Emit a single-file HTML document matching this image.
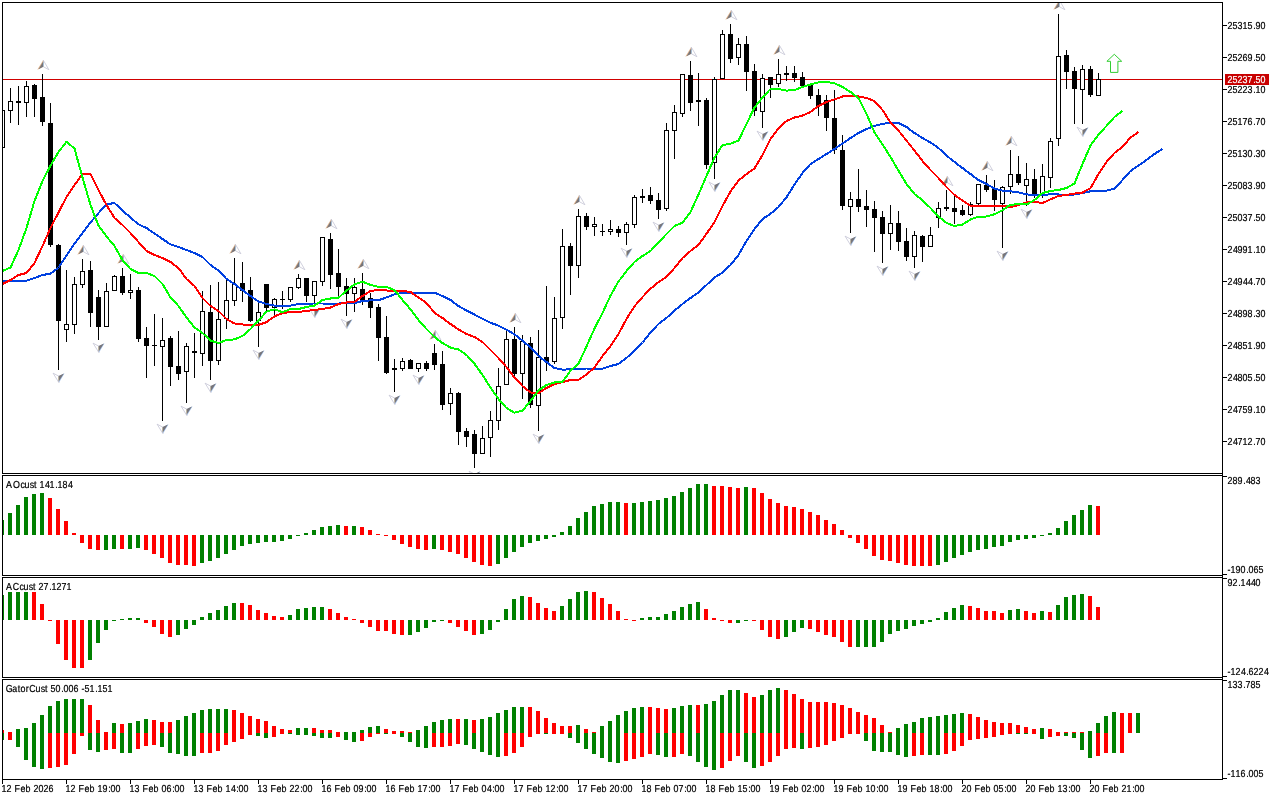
<!DOCTYPE html>
<html lang="en"><head><meta charset="utf-8"><title>Chart</title>
<style>html,body{margin:0;padding:0;background:#fff;width:1280px;height:800px;overflow:hidden}svg{display:block;position:absolute;left:0;top:0}text{font-family:"Liberation Sans",Arial,sans-serif;font-size:10.1px;text-rendering:geometricPrecision;fill:#000;stroke:#000;stroke-width:.22px}.c{shape-rendering:crispEdges}</style></head><body>
<svg width="1280" height="800" viewBox="0 0 1280 800">
<rect width="1280" height="800" fill="#fff"/>
<defs><clipPath id="m"><rect x="3" y="3" width="1219" height="470"/></clipPath><clipPath id="p1"><rect x="3" y="476" width="1219" height="99"/></clipPath><clipPath id="p2"><rect x="3" y="578" width="1219" height="99"/></clipPath><clipPath id="p3"><rect x="3" y="680" width="1219" height="99"/></clipPath></defs>
<g clip-path="url(#m)">
<path class="c" d="M3 79h1219v1h-1219z" fill="#d00000"/>
<path class="c" d="M2 110h1v38h-1zM0 110h5v38h-5zM10 88h1v35h-1zM8 101h5v10h-5zM18 86h1v39h-1zM16 101h5v2h-5zM26 81h1v36h-1zM24 86h5v17h-5zM34 84h1v33h-1zM32 85h5v14h-5zM42 74h1v52h-1zM40 97h5v25h-5zM50 103h1v144h-1zM48 123h5v122h-5zM58 244h1v126h-1zM56 245h5v76h-5zM66 270h1v72h-1zM64 324h5v6h-5zM74 277h1v57h-1zM72 284h5v41h-5zM82 259h1v29h-1zM80 271h5v14h-5zM90 261h1v66h-1zM88 270h5v43h-5zM98 290h1v50h-1zM96 297h5v30h-5zM106 283h1v44h-1zM104 291h5v36h-5zM114 275h1v16h-1zM112 276h5v15h-5zM122 268h1v27h-1zM120 276h5v17h-5zM130 274h1v25h-1zM128 290h5v3h-5zM138 287h1v55h-1zM136 290h5v49h-5zM146 327h1v51h-1zM144 338h5v8h-5zM154 314h1v52h-1zM152 345h5v1h-5zM162 318h1v103h-1zM160 340h5v7h-5zM170 336h1v50h-1zM168 338h5v29h-5zM178 331h1v49h-1zM176 366h5v8h-5zM186 343h1v60h-1zM184 346h5v26h-5zM194 333h1v45h-1zM192 351h5v2h-5zM202 291h1v75h-1zM200 311h5v43h-5zM210 285h1v95h-1zM208 312h5v49h-5zM218 282h1v83h-1zM216 319h5v42h-5zM226 280h1v49h-1zM224 300h5v19h-5zM234 258h1v48h-1zM232 284h5v17h-5zM242 262h1v40h-1zM240 283h5v8h-5zM250 277h1v45h-1zM248 290h5v31h-5zM258 301h1v46h-1zM256 312h5v9h-5zM266 284h1v27h-1zM264 284h5v24h-5zM274 298h1v18h-1zM272 299h5v9h-5zM282 291h1v18h-1zM280 299h5v1h-5zM290 287h1v15h-1zM288 287h5v13h-5zM298 274h1v15h-1zM296 278h5v10h-5zM306 278h1v24h-1zM304 278h5v18h-5zM314 281h1v24h-1zM312 281h5v15h-5zM322 237h1v49h-1zM320 237h5v45h-5zM330 233h1v56h-1zM328 239h5v36h-5zM338 249h1v47h-1zM336 273h5v14h-5zM346 278h1v38h-1zM344 286h5v8h-5zM354 278h1v34h-1zM352 287h5v7h-5zM362 273h1v32h-1zM360 289h5v11h-5zM370 293h1v25h-1zM368 298h5v10h-5zM378 304h1v57h-1zM376 307h5v31h-5zM386 316h1v58h-1zM384 337h5v36h-5zM394 359h1v33h-1zM392 368h5v2h-5zM402 358h1v13h-1zM400 361h5v8h-5zM410 359h1v10h-1zM408 360h5v9h-5zM418 363h1v9h-1zM416 363h5v6h-5zM426 361h1v10h-1zM424 363h5v6h-5zM434 344h1v26h-1zM432 353h5v12h-5zM442 351h1v59h-1zM440 364h5v41h-5zM450 388h1v27h-1zM448 393h5v11h-5zM458 392h1v53h-1zM456 393h5v39h-5zM466 428h1v19h-1zM464 431h5v6h-5zM474 430h1v38h-1zM472 434h5v20h-5zM482 426h1v28h-1zM480 438h5v16h-5zM490 411h1v46h-1zM488 420h5v18h-5zM498 368h1v62h-1zM496 386h5v35h-5zM506 330h1v55h-1zM504 339h5v46h-5zM514 327h1v50h-1zM512 339h5v35h-5zM522 335h1v64h-1zM520 341h5v33h-5zM530 337h1v71h-1zM528 343h5v62h-5zM538 330h1v101h-1zM536 357h5v49h-5zM546 286h1v85h-1zM544 357h5v5h-5zM554 297h1v67h-1zM552 318h5v44h-5zM562 229h1v100h-1zM560 246h5v72h-5zM570 243h1v52h-1zM568 246h5v20h-5zM578 209h1v69h-1zM576 216h5v50h-5zM586 213h1v17h-1zM584 216h5v11h-5zM594 217h1v19h-1zM592 224h5v3h-5zM602 224h1v12h-1zM600 231h5v1h-5zM610 220h1v15h-1zM608 229h5v3h-5zM618 226h1v11h-1zM616 229h5v4h-5zM626 222h1v23h-1zM624 224h5v9h-5zM634 195h1v33h-1zM632 197h5v28h-5zM642 189h1v14h-1zM640 196h5v2h-5zM650 187h1v17h-1zM648 195h5v6h-5zM658 193h1v26h-1zM656 200h5v10h-5zM666 123h1v88h-1zM664 130h5v79h-5zM674 105h1v54h-1zM672 112h5v19h-5zM682 74h1v43h-1zM680 74h5v40h-5zM690 61h1v50h-1zM688 75h5v28h-5zM698 73h1v53h-1zM696 100h5v2h-5zM706 98h1v71h-1zM704 100h5v65h-5zM714 77h1v102h-1zM712 79h5v84h-5zM722 30h1v49h-1zM720 34h5v45h-5zM730 24h1v39h-1zM728 34h5v25h-5zM738 38h1v27h-1zM736 44h5v14h-5zM746 36h1v55h-1zM744 44h5v28h-5zM754 64h1v52h-1zM752 71h5v40h-5zM762 74h1v54h-1zM760 78h5v34h-5zM770 77h1v21h-1zM768 77h5v8h-5zM778 59h1v28h-1zM776 74h5v10h-5zM786 66h1v15h-1zM784 73h5v2h-5zM794 66h1v16h-1zM792 73h5v5h-5zM802 72h1v14h-1zM800 77h5v9h-5zM810 85h1v14h-1zM808 85h5v11h-5zM818 89h1v27h-1zM816 95h5v11h-5zM826 95h1v36h-1zM824 100h5v18h-5zM834 90h1v64h-1zM832 118h5v32h-5zM842 135h1v75h-1zM840 150h5v56h-5zM850 192h1v41h-1zM848 199h5v8h-5zM858 169h1v43h-1zM856 199h5v8h-5zM866 190h1v37h-1zM864 206h5v4h-5zM874 201h1v51h-1zM872 209h5v9h-5zM882 211h1v52h-1zM880 217h5v17h-5zM890 205h1v45h-1zM888 223h5v11h-5zM898 211h1v40h-1zM896 223h5v19h-5zM906 228h1v33h-1zM904 241h5v16h-5zM914 231h1v37h-1zM912 235h5v22h-5zM922 235h1v27h-1zM920 236h5v11h-5zM930 227h1v20h-1zM928 235h5v12h-5zM938 202h1v26h-1zM936 208h5v10h-5zM946 190h1v21h-1zM944 207h5v2h-5zM954 195h1v29h-1zM952 208h5v4h-5zM962 205h1v11h-1zM960 210h5v5h-5zM970 202h1v14h-1zM968 204h5v11h-5zM978 184h1v21h-1zM976 184h5v20h-5zM986 175h1v17h-1zM984 185h5v5h-5zM994 180h1v31h-1zM992 189h5v11h-5zM1002 186h1v62h-1zM1000 187h5v17h-5zM1010 150h1v44h-1zM1008 174h5v13h-5zM1018 156h1v29h-1zM1016 174h5v9h-5zM1026 163h1v43h-1zM1024 179h5v7h-5zM1034 169h1v29h-1zM1032 179h5v15h-5zM1042 164h1v34h-1zM1040 176h5v19h-5zM1050 138h1v50h-1zM1048 141h5v37h-5zM1058 14h1v132h-1zM1056 56h5v83h-5zM1066 50h1v39h-1zM1064 55h5v17h-5zM1074 67h1v57h-1zM1072 71h5v18h-5zM1082 65h1v59h-1zM1080 69h5v21h-5zM1090 66h1v31h-1zM1088 69h5v26h-5zM1098 73h1v23h-1zM1096 79h5v17h-5z" fill="#000"/>
<path class="c" d="M1 111h3v36h-3zM9 102h3v8h-3zM25 87h3v15h-3zM65 325h3v4h-3zM73 285h3v39h-3zM81 272h3v12h-3zM105 292h3v34h-3zM113 277h3v13h-3zM129 291h3v1h-3zM161 341h3v5h-3zM185 347h3v24h-3zM201 312h3v41h-3zM217 320h3v40h-3zM225 301h3v17h-3zM233 285h3v15h-3zM257 313h3v7h-3zM273 300h3v7h-3zM289 288h3v11h-3zM297 279h3v8h-3zM313 282h3v13h-3zM321 238h3v43h-3zM353 288h3v5h-3zM401 362h3v6h-3zM417 364h3v4h-3zM449 394h3v9h-3zM481 439h3v14h-3zM489 421h3v16h-3zM497 387h3v33h-3zM505 340h3v44h-3zM521 342h3v31h-3zM537 358h3v47h-3zM553 319h3v42h-3zM561 247h3v70h-3zM577 217h3v48h-3zM593 225h3v1h-3zM609 230h3v1h-3zM625 225h3v7h-3zM633 198h3v26h-3zM665 131h3v77h-3zM673 113h3v17h-3zM681 75h3v38h-3zM713 80h3v82h-3zM721 35h3v43h-3zM737 45h3v12h-3zM761 79h3v32h-3zM777 75h3v8h-3zM849 200h3v6h-3zM889 224h3v9h-3zM913 236h3v20h-3zM929 236h3v10h-3zM937 209h3v8h-3zM969 205h3v9h-3zM977 185h3v18h-3zM1001 188h3v15h-3zM1009 175h3v11h-3zM1025 180h3v5h-3zM1041 177h3v17h-3zM1049 142h3v35h-3zM1057 57h3v81h-3zM1081 70h3v19h-3zM1097 80h3v15h-3z" fill="#fff"/>
<path d="M43.3 60.2L48.9 69.7L43.3 66.7zM83.3 245.2L88.9 254.7L83.3 251.7zM123.3 254.2L128.9 263.7L123.3 260.7zM235.3 244.2L240.9 253.7L235.3 250.7zM299.3 260.2L304.9 269.7L299.3 266.7zM331.3 219.2L336.9 228.7L331.3 225.7zM363.3 259.2L368.9 268.7L363.3 265.7zM435.3 330.2L440.9 339.7L435.3 336.7zM515.3 313.2L520.9 322.7L515.3 319.7zM579.3 195.2L584.9 204.7L579.3 201.7zM691.3 47.2L696.9 56.7L691.3 53.7zM731.3 10.2L736.9 19.7L731.3 16.7zM779.3 45.2L784.9 54.7L779.3 51.7zM947.3 176.2L952.9 185.7L947.3 182.7zM987.3 161.2L992.9 170.7L987.3 167.7zM1011.3 136.2L1016.9 145.7L1011.3 142.7zM1059.3 0.2L1064.9 9.7L1059.3 6.7zM58.9 382.6L53.1 373.2L58.9 376.2zM98.9 352.6L93.1 343.2L98.9 346.2zM162.9 433.6L157.1 424.2L162.9 427.2zM186.9 415.6L181.1 406.2L186.9 409.2zM210.9 392.6L205.1 383.2L210.9 386.2zM258.9 359.6L253.1 350.2L258.9 353.2zM314.9 317.6L309.1 308.2L314.9 311.2zM346.9 328.6L341.1 319.2L346.9 322.2zM394.9 404.6L389.1 395.2L394.9 398.2zM418.9 384.6L413.1 375.2L418.9 378.2zM474.9 480.6L469.1 471.2L474.9 474.2zM538.9 443.6L533.1 434.2L538.9 437.2zM626.9 257.6L621.1 248.2L626.9 251.2zM658.9 231.6L653.1 222.2L658.9 225.2zM714.9 191.6L709.1 182.2L714.9 185.2zM762.9 140.6L757.1 131.2L762.9 134.2zM850.9 245.6L845.1 236.2L850.9 239.2zM882.9 275.6L877.1 266.2L882.9 269.2zM914.9 280.6L909.1 271.2L914.9 274.2zM1002.9 260.6L997.1 251.2L1002.9 254.2zM1026.9 218.6L1021.1 209.2L1026.9 212.2zM1082.9 136.6L1077.1 127.2L1082.9 130.2z" fill="#fff" stroke="#c4c4d4" stroke-width="0.8" stroke-linejoin="miter"/>
<path d="M43.1 60.2L37.3 69.7L43.3 66.7zM83.1 245.2L77.3 254.7L83.3 251.7zM123.1 254.2L117.3 263.7L123.3 260.7zM235.1 244.2L229.3 253.7L235.3 250.7zM299.1 260.2L293.3 269.7L299.3 266.7zM331.1 219.2L325.3 228.7L331.3 225.7zM363.1 259.2L357.3 268.7L363.3 265.7zM435.1 330.2L429.3 339.7L435.3 336.7zM515.1 313.2L509.3 322.7L515.3 319.7zM579.1 195.2L573.3 204.7L579.3 201.7zM691.1 47.2L685.3 56.7L691.3 53.7zM731.1 10.2L725.3 19.7L731.3 16.7zM779.1 45.2L773.3 54.7L779.3 51.7zM947.1 176.2L941.3 185.7L947.3 182.7zM987.1 161.2L981.3 170.7L987.3 167.7zM1011.1 136.2L1005.3 145.7L1011.3 142.7zM1059.1 0.2L1053.3 9.7L1059.3 6.7z" fill="#e0b48c"/>
<path d="M59.1 382.6L64.6 373.2L58.9 376.2zM99.1 352.6L104.6 343.2L98.9 346.2zM163.1 433.6L168.6 424.2L162.9 427.2zM187.1 415.6L192.6 406.2L186.9 409.2zM211.1 392.6L216.6 383.2L210.9 386.2zM259.1 359.6L264.6 350.2L258.9 353.2zM315.1 317.6L320.6 308.2L314.9 311.2zM347.1 328.6L352.6 319.2L346.9 322.2zM395.1 404.6L400.6 395.2L394.9 398.2zM419.1 384.6L424.6 375.2L418.9 378.2zM475.1 480.6L480.6 471.2L474.9 474.2zM539.1 443.6L544.6 434.2L538.9 437.2zM627.1 257.6L632.6 248.2L626.9 251.2zM659.1 231.6L664.6 222.2L658.9 225.2zM715.1 191.6L720.6 182.2L714.9 185.2zM763.1 140.6L768.6 131.2L762.9 134.2zM851.1 245.6L856.6 236.2L850.9 239.2zM883.1 275.6L888.6 266.2L882.9 269.2zM915.1 280.6L920.6 271.2L914.9 274.2zM1003.1 260.6L1008.6 251.2L1002.9 254.2zM1027.1 218.6L1032.6 209.2L1026.9 212.2zM1083.1 136.6L1088.6 127.2L1082.9 130.2z" fill="#a4c4ee"/>
<path d="M59.2 381.1L58.3 380.1L58.3 376.7L59.2 376.2zM99.2 351.1L98.3 350.1L98.3 346.7L99.2 346.2zM163.2 432.1L162.3 431.1L162.3 427.7L163.2 427.2zM187.2 414.1L186.3 413.1L186.3 409.7L187.2 409.2zM211.2 391.1L210.3 390.1L210.3 386.7L211.2 386.2zM259.2 358.1L258.3 357.1L258.3 353.7L259.2 353.2zM315.2 316.1L314.3 315.1L314.3 311.7L315.2 311.2zM347.2 327.1L346.3 326.1L346.3 322.7L347.2 322.2zM395.2 403.1L394.3 402.1L394.3 398.7L395.2 398.2zM419.2 383.1L418.3 382.1L418.3 378.7L419.2 378.2zM475.2 479.1L474.3 478.1L474.3 474.7L475.2 474.2zM539.2 442.1L538.3 441.1L538.3 437.7L539.2 437.2zM627.2 256.1L626.3 255.1L626.3 251.7L627.2 251.2zM659.2 230.1L658.3 229.1L658.3 225.7L659.2 225.2zM715.2 190.1L714.3 189.1L714.3 185.7L715.2 185.2zM763.2 139.1L762.3 138.1L762.3 134.7L763.2 134.2zM851.2 244.1L850.3 243.1L850.3 239.7L851.2 239.2zM883.2 274.1L882.3 273.1L882.3 269.7L883.2 269.2zM915.2 279.1L914.3 278.1L914.3 274.7L915.2 274.2zM1003.2 259.1L1002.3 258.1L1002.3 254.7L1003.2 254.2zM1027.2 217.1L1026.3 216.1L1026.3 212.7L1027.2 212.2zM1083.2 135.1L1082.3 134.1L1082.3 130.7L1083.2 130.2z" fill="#f4e4b0"/>
<path d="M43 61.7L43.9 62.7L43.9 66.2L43 66.7zM83 246.7L83.9 247.7L83.9 251.2L83 251.7zM123 255.7L123.9 256.7L123.9 260.2L123 260.7zM235 245.7L235.9 246.7L235.9 250.2L235 250.7zM299 261.7L299.9 262.7L299.9 266.2L299 266.7zM331 220.7L331.9 221.7L331.9 225.2L331 225.7zM363 260.7L363.9 261.7L363.9 265.2L363 265.7zM435 331.7L435.9 332.7L435.9 336.2L435 336.7zM515 314.7L515.9 315.7L515.9 319.2L515 319.7zM579 196.7L579.9 197.7L579.9 201.2L579 201.7zM691 48.7L691.9 49.7L691.9 53.2L691 53.7zM731 11.7L731.9 12.7L731.9 16.2L731 16.7zM779 46.7L779.9 47.7L779.9 51.2L779 51.7zM947 177.7L947.9 178.7L947.9 182.2L947 182.7zM987 162.7L987.9 163.7L987.9 167.2L987 167.7zM1011 137.7L1011.9 138.7L1011.9 142.2L1011 142.7zM1059 1.7L1059.9 2.7L1059.9 6.2L1059 6.7z" fill="#bce0ff"/>
<path d="M43.3 61.2L38.6 69.3L43.3 66.7zM83.3 246.2L78.6 254.3L83.3 251.7zM123.3 255.2L118.6 263.3L123.3 260.7zM235.3 245.2L230.6 253.3L235.3 250.7zM299.3 261.2L294.6 269.3L299.3 266.7zM331.3 220.2L326.6 228.3L331.3 225.7zM363.3 260.2L358.6 268.3L363.3 265.7zM435.3 331.2L430.6 339.3L435.3 336.7zM515.3 314.2L510.6 322.3L515.3 319.7zM579.3 196.2L574.6 204.3L579.3 201.7zM691.3 48.2L686.6 56.3L691.3 53.7zM731.3 11.2L726.6 19.3L731.3 16.7zM779.3 46.2L774.6 54.3L779.3 51.7zM947.3 177.2L942.6 185.3L947.3 182.7zM987.3 162.2L982.6 170.3L987.3 167.7zM1011.3 137.2L1006.6 145.3L1011.3 142.7zM1059.3 1.2L1054.6 9.3L1059.3 6.7zM58.6 381.8L63.9 373.4L58.6 376zM98.6 351.8L103.9 343.4L98.6 346zM162.6 432.8L167.9 424.4L162.6 427zM186.6 414.8L191.9 406.4L186.6 409zM210.6 391.8L215.9 383.4L210.6 386zM258.6 358.8L263.9 350.4L258.6 353zM314.6 316.8L319.9 308.4L314.6 311zM346.6 327.8L351.9 319.4L346.6 322zM394.6 403.8L399.9 395.4L394.6 398zM418.6 383.8L423.9 375.4L418.6 378zM474.6 479.8L479.9 471.4L474.6 474zM538.6 442.8L543.9 434.4L538.6 437zM626.6 256.8L631.9 248.4L626.6 251zM658.6 230.8L663.9 222.4L658.6 225zM714.6 190.8L719.9 182.4L714.6 185zM762.6 139.8L767.9 131.4L762.6 134zM850.6 244.8L855.9 236.4L850.6 239zM882.6 274.8L887.9 266.4L882.6 269zM914.6 279.8L919.9 271.4L914.6 274zM1002.6 259.8L1007.9 251.4L1002.6 254zM1026.6 217.8L1031.9 209.4L1026.6 212zM1082.6 135.8L1087.9 127.4L1082.6 130z" fill="#77757a"/>
<polyline class="c" points="2.5,281 10.5,281 18.5,281 26.5,280.6 34.5,278 42.5,275 50.5,273.7 58.5,267.5 66.5,255.6 74.5,243.7 82.5,233 90.5,222.5 98.5,213 106.5,204.4 114.5,203 122.5,210.6 130.5,217.5 138.5,224.4 146.5,228 154.5,233.5 162.5,239 170.5,244.4 178.5,247 186.5,250 194.5,253 202.5,257 210.5,265 218.5,270.6 226.5,279 234.5,284 242.5,290 250.5,296 258.5,301.5 266.5,304 274.5,305.6 282.5,306 290.5,305.6 298.5,304 306.5,303.6 314.5,303.5 322.5,303.5 330.5,303.5 338.5,303.5 346.5,303.4 354.5,303 362.5,301 370.5,300.4 378.5,300.2 386.5,297.4 394.5,294.4 402.5,292.75 410.5,292.75 418.5,292.75 426.5,292.75 434.5,292.75 442.5,296 450.5,300 458.5,306 466.5,310.6 474.5,314.6 482.5,318.75 490.5,322.75 498.5,325.6 506.5,329.75 514.5,334.4 522.5,340.6 530.5,347.5 538.5,356 546.5,362 554.5,368 562.5,369.6 570.5,369.4 578.5,369 586.5,368.5 594.5,368.75 602.5,368.75 610.5,366 618.5,364 626.5,358 634.5,350.6 642.5,342.5 650.5,332.5 658.5,324 666.5,318 674.5,310.6 682.5,304 690.5,298 698.5,292.5 706.5,285 714.5,277.5 722.5,272.5 730.5,265 738.5,255 746.5,241 754.5,229 762.5,219 770.5,213.75 778.5,207 786.5,197.3 794.5,184.5 802.5,173 810.5,164 818.5,159 826.5,154 834.5,149 842.5,143.5 850.5,138 858.5,133 866.5,129 874.5,126 882.5,123.75 890.5,123 898.5,123 906.5,127 914.5,133 922.5,138 930.5,142.5 938.5,148 946.5,155.6 954.5,162 962.5,168 970.5,174 978.5,180 986.5,184 994.5,188.5 1002.5,190.6 1010.5,191.3 1018.5,192.3 1026.5,194.4 1034.5,195 1042.5,194.8 1050.5,194.4 1058.5,194.4 1066.5,195.3 1074.5,194.4 1082.5,193 1090.5,191.3 1098.5,191 1106.5,190.6 1114.5,188.75 1122.5,180 1130.5,171 1138.5,165.6 1146.5,160 1154.5,154 1162.5,148.75" fill="none" stroke="#0040e0" stroke-width="2" stroke-linejoin="round" stroke-linecap="butt"/>
<polyline class="c" points="2.5,284 10.5,280 18.5,275 26.5,273 34.5,263 42.5,246 50.5,228 58.5,212.5 66.5,197 74.5,185 82.5,174 90.5,173.8 98.5,190 106.5,205 114.5,218 122.5,225 130.5,233 138.5,242 146.5,251 154.5,255 162.5,258 170.5,262 178.5,268 186.5,279 194.5,286 202.5,298 210.5,306 218.5,311 226.5,319 234.5,323.5 242.5,324.5 250.5,325 258.5,324.8 266.5,322.2 274.5,316.3 282.5,313.2 290.5,312 298.5,312 306.5,311 314.5,310 322.5,309 330.5,307.5 338.5,304 346.5,302.5 354.5,302 362.5,296 370.5,291 378.5,289.75 386.5,290.5 394.5,291 402.5,291 410.5,292 418.5,297.5 426.5,303 434.5,312.8 442.5,318 450.5,324 458.5,329.4 466.5,334 474.5,337 482.5,342 490.5,350 498.5,358 506.5,367 514.5,377.5 522.5,386 530.5,392.5 538.5,393 546.5,388 554.5,384 562.5,382 570.5,380 578.5,379.75 586.5,374.5 594.5,367.5 602.5,356 610.5,346 618.5,334 626.5,319 634.5,306.3 642.5,297 650.5,288.8 658.5,282 666.5,277 674.5,268 682.5,258 690.5,251 698.5,245 706.5,233.75 714.5,222 722.5,206 730.5,191.5 738.5,180.5 746.5,174 754.5,168.5 762.5,155 770.5,139 778.5,128.5 786.5,121 794.5,117.5 802.5,115.6 810.5,112 818.5,106 826.5,102 834.5,99.4 842.5,96.5 850.5,96 858.5,96.5 866.5,98 874.5,101 882.5,110 890.5,122.5 898.5,130.6 906.5,140.6 914.5,150.6 922.5,161 930.5,170 938.5,178 946.5,187 954.5,195 962.5,200.5 970.5,205.9 978.5,206 986.5,206 994.5,206 1002.5,206 1010.5,207 1018.5,205 1026.5,202.3 1034.5,201.8 1042.5,203 1050.5,199.4 1058.5,196 1066.5,195 1074.5,193.6 1082.5,192.5 1090.5,188.2 1098.5,174 1106.5,162 1114.5,153 1122.5,147 1130.5,137.5 1138.5,132" fill="none" stroke="#ff0000" stroke-width="2" stroke-linejoin="round" stroke-linecap="butt"/>
<polyline class="c" points="2.5,271 10.5,267.5 18.5,250 26.5,228 34.5,201 42.5,181 50.5,165.6 58.5,152 66.5,141.8 74.5,148.5 82.5,177.5 90.5,205 98.5,225.6 106.5,236.5 114.5,246 122.5,260 130.5,269 138.5,273 146.5,273 154.5,276 162.5,284 170.5,297.5 178.5,306 186.5,317.5 194.5,327.5 202.5,333 210.5,340.6 218.5,343 226.5,340 234.5,339.4 242.5,336 250.5,329 258.5,320.5 266.5,311.6 274.5,309.3 282.5,312.2 290.5,309 298.5,309 306.5,307 314.5,305.6 322.5,300 330.5,298.5 338.5,297.75 346.5,290.6 354.5,284.4 362.5,281.6 370.5,285 378.5,286.8 386.5,287 394.5,290 402.5,300 410.5,309.3 418.5,320 426.5,329 434.5,337 442.5,343 450.5,347.6 458.5,349.5 466.5,355 474.5,363.75 482.5,375 490.5,387.5 498.5,399 506.5,408 514.5,412.75 522.5,410.6 530.5,401 538.5,390.3 546.5,385 554.5,382.5 562.5,382 570.5,370.6 578.5,363.75 586.5,346.5 594.5,328.5 602.5,313 610.5,295.6 618.5,281.5 626.5,271 634.5,262 642.5,256 650.5,251 658.5,242.5 666.5,234 674.5,226 682.5,222.75 690.5,212 698.5,194.5 706.5,176 714.5,157.5 722.5,145 730.5,143.75 738.5,140.6 746.5,124 754.5,107.5 762.5,97.5 770.5,89 778.5,89 786.5,90.6 794.5,90 802.5,87 810.5,84.5 818.5,82.3 826.5,81.9 834.5,83.2 842.5,87 850.5,92 858.5,98 866.5,113.75 874.5,132.5 882.5,144.5 890.5,157 898.5,170.6 906.5,184 914.5,194 922.5,200.3 930.5,208 938.5,216.5 946.5,223 954.5,226 962.5,224.5 970.5,219.5 978.5,216.7 986.5,216.5 994.5,214.2 1002.5,210.3 1010.5,204.6 1018.5,204.4 1026.5,204.5 1034.5,200 1042.5,193 1050.5,191 1058.5,190 1066.5,188 1074.5,183.5 1082.5,164 1090.5,145.5 1098.5,134.5 1106.5,126 1114.5,117 1122.5,111" fill="none" stroke="#00ff00" stroke-width="2" stroke-linejoin="round" stroke-linecap="butt"/>
<path d="M1114.3 54.3L1121.7 61.3H1117.9V72.4H1110.5V61.3H1106.9z" fill="#fff" stroke="#32cd32" stroke-width="1" stroke-linejoin="miter"/>
</g>
<g clip-path="url(#p1)"><path class="c" d="M0 520h4v15h-4zM8 513h4v22h-4zM16 505h4v30h-4zM24 497h4v38h-4zM32 494h4v41h-4zM40 493h4v42h-4zM104 535h4v15h-4zM112 535h4v14h-4zM128 535h4v14h-4zM136 535h4v13h-4zM200 535h4v28h-4zM208 535h4v26h-4zM216 535h4v23h-4zM224 535h4v19h-4zM232 535h4v15h-4zM240 535h4v11h-4zM248 535h4v9h-4zM256 535h4v8h-4zM264 535h4v7h-4zM272 535h4v7h-4zM280 535h4v6h-4zM288 535h4v4h-4zM296 535h4v1h-4zM304 533h4v2h-4zM312 530h4v5h-4zM320 527h4v8h-4zM328 526h4v9h-4zM336 525h4v10h-4zM352 526h4v9h-4zM432 535h4v14h-4zM496 535h4v29h-4zM504 535h4v23h-4zM512 535h4v17h-4zM520 535h4v12h-4zM528 535h4v8h-4zM536 535h4v6h-4zM544 535h4v4h-4zM552 535h4v2h-4zM560 532h4v3h-4zM568 526h4v9h-4zM576 518h4v17h-4zM584 512h4v23h-4zM592 506h4v29h-4zM600 504h4v31h-4zM608 502h4v33h-4zM616 502h4v33h-4zM632 503h4v32h-4zM640 502h4v33h-4zM648 501h4v34h-4zM656 500h4v35h-4zM664 498h4v37h-4zM672 496h4v39h-4zM680 492h4v43h-4zM688 488h4v47h-4zM696 484h4v51h-4zM704 484h4v51h-4zM744 487h4v48h-4zM936 535h4v30h-4zM944 535h4v27h-4zM952 535h4v23h-4zM960 535h4v20h-4zM968 535h4v17h-4zM976 535h4v15h-4zM984 535h4v14h-4zM992 535h4v12h-4zM1000 535h4v11h-4zM1008 535h4v7h-4zM1016 535h4v5h-4zM1024 535h4v4h-4zM1032 535h4v3h-4zM1040 535h4v1h-4zM1048 533h4v2h-4zM1056 528h4v7h-4zM1064 521h4v14h-4zM1072 515h4v20h-4zM1080 510h4v25h-4zM1088 505h4v30h-4z" fill="#008000"/><path class="c" d="M48 498h4v37h-4zM56 509h4v26h-4zM64 521h4v14h-4zM72 533h4v2h-4zM80 535h4v8h-4zM88 535h4v14h-4zM96 535h4v15h-4zM120 535h4v14h-4zM144 535h4v15h-4zM152 535h4v19h-4zM160 535h4v23h-4zM168 535h4v28h-4zM176 535h4v30h-4zM184 535h4v30h-4zM192 535h4v31h-4zM344 526h4v9h-4zM360 527h4v8h-4zM368 530h4v5h-4zM376 534h4v1h-4zM384 535h4v1h-4zM392 535h4v5h-4zM400 535h4v9h-4zM408 535h4v12h-4zM416 535h4v14h-4zM424 535h4v15h-4zM440 535h4v15h-4zM448 535h4v17h-4zM456 535h4v19h-4zM464 535h4v23h-4zM472 535h4v27h-4zM480 535h4v30h-4zM488 535h4v31h-4zM624 503h4v32h-4zM712 486h4v49h-4zM720 486h4v49h-4zM728 487h4v48h-4zM736 488h4v47h-4zM752 488h4v47h-4zM760 493h4v42h-4zM768 499h4v36h-4zM776 503h4v32h-4zM784 506h4v29h-4zM792 507h4v28h-4zM800 509h4v26h-4zM808 512h4v23h-4zM816 515h4v20h-4zM824 520h4v15h-4zM832 524h4v11h-4zM840 530h4v5h-4zM848 535h4v3h-4zM856 535h4v8h-4zM864 535h4v14h-4zM872 535h4v21h-4zM880 535h4v25h-4zM888 535h4v26h-4zM896 535h4v28h-4zM904 535h4v30h-4zM912 535h4v31h-4zM920 535h4v31h-4zM928 535h4v31h-4zM1096 506h4v29h-4z" fill="#ff0000"/></g>
<g clip-path="url(#p2)"><path class="c" d="M0 595h4v25h-4zM8 592h4v28h-4zM16 592h4v28h-4zM24 592h4v28h-4zM88 620h4v40h-4zM96 620h4v23h-4zM104 620h4v10h-4zM112 620h4v1h-4zM120 619h4v1h-4zM128 618h4v2h-4zM136 618h4v2h-4zM176 620h4v15h-4zM184 620h4v9h-4zM192 620h4v5h-4zM200 617h4v3h-4zM208 613h4v7h-4zM216 610h4v10h-4zM224 606h4v14h-4zM232 603h4v17h-4zM288 615h4v5h-4zM296 609h4v11h-4zM304 608h4v12h-4zM312 607h4v13h-4zM320 607h4v13h-4zM408 620h4v15h-4zM416 620h4v12h-4zM424 620h4v8h-4zM432 620h4v2h-4zM440 620h4v1h-4zM480 620h4v14h-4zM488 620h4v10h-4zM496 620h4v2h-4zM504 609h4v11h-4zM512 599h4v21h-4zM520 596h4v24h-4zM560 606h4v14h-4zM568 599h4v21h-4zM576 592h4v28h-4zM584 591h4v29h-4zM640 618h4v2h-4zM648 617h4v3h-4zM656 617h4v3h-4zM664 614h4v6h-4zM672 611h4v9h-4zM680 607h4v13h-4zM688 604h4v16h-4zM696 602h4v18h-4zM736 620h4v3h-4zM744 620h4v1h-4zM784 620h4v17h-4zM792 620h4v12h-4zM800 620h4v8h-4zM856 620h4v27h-4zM864 620h4v27h-4zM872 620h4v27h-4zM880 620h4v22h-4zM888 620h4v14h-4zM896 620h4v11h-4zM904 620h4v9h-4zM912 620h4v6h-4zM920 620h4v4h-4zM928 620h4v2h-4zM936 618h4v2h-4zM944 612h4v8h-4zM952 608h4v12h-4zM960 605h4v15h-4zM1008 610h4v10h-4zM1016 609h4v11h-4zM1040 611h4v9h-4zM1056 605h4v15h-4zM1064 597h4v23h-4zM1072 595h4v25h-4zM1080 594h4v26h-4z" fill="#008000"/><path class="c" d="M32 592h4v28h-4zM40 604h4v16h-4zM48 620h4v1h-4zM56 620h4v24h-4zM64 620h4v40h-4zM72 620h4v48h-4zM80 620h4v48h-4zM144 620h4v3h-4zM152 620h4v7h-4zM160 620h4v14h-4zM168 620h4v17h-4zM240 603h4v17h-4zM248 605h4v15h-4zM256 610h4v10h-4zM264 613h4v7h-4zM272 616h4v4h-4zM280 617h4v3h-4zM328 609h4v11h-4zM336 613h4v7h-4zM344 617h4v3h-4zM352 619h4v1h-4zM360 620h4v3h-4zM368 620h4v7h-4zM376 620h4v11h-4zM384 620h4v11h-4zM392 620h4v14h-4zM400 620h4v15h-4zM448 620h4v3h-4zM456 620h4v7h-4zM464 620h4v11h-4zM472 620h4v15h-4zM528 597h4v23h-4zM536 603h4v17h-4zM544 608h4v12h-4zM552 611h4v9h-4zM592 592h4v28h-4zM600 598h4v22h-4zM608 604h4v16h-4zM616 611h4v9h-4zM624 619h4v1h-4zM632 620h4v1h-4zM704 609h4v11h-4zM712 618h4v2h-4zM720 620h4v1h-4zM728 620h4v3h-4zM752 620h4v1h-4zM760 620h4v10h-4zM768 620h4v17h-4zM776 620h4v19h-4zM808 620h4v9h-4zM816 620h4v12h-4zM824 620h4v15h-4zM832 620h4v17h-4zM840 620h4v22h-4zM848 620h4v27h-4zM968 606h4v14h-4zM976 608h4v12h-4zM984 611h4v9h-4zM992 611h4v9h-4zM1000 613h4v7h-4zM1024 611h4v9h-4zM1032 613h4v7h-4zM1048 612h4v8h-4zM1088 596h4v24h-4zM1096 607h4v13h-4z" fill="#ff0000"/></g>
<g clip-path="url(#p3)"><path class="c" d="M0 733h4v7h-4zM16 729h4v4h-4zM16 733h4v14h-4zM24 728h4v5h-4zM24 733h4v27h-4zM32 723h4v10h-4zM32 733h4v34h-4zM40 715h4v18h-4zM40 733h4v36h-4zM48 706h4v27h-4zM56 701h4v32h-4zM64 699h4v34h-4zM72 699h4v34h-4zM80 699h4v34h-4zM88 733h4v17h-4zM96 733h4v19h-4zM112 723h4v10h-4zM120 733h4v20h-4zM128 723h4v10h-4zM128 733h4v20h-4zM136 721h4v12h-4zM144 719h4v14h-4zM160 733h4v14h-4zM168 733h4v20h-4zM176 720h4v13h-4zM176 733h4v21h-4zM184 716h4v17h-4zM184 733h4v23h-4zM192 713h4v20h-4zM192 733h4v23h-4zM200 710h4v23h-4zM208 709h4v24h-4zM216 709h4v24h-4zM224 709h4v24h-4zM256 733h4v3h-4zM264 733h4v5h-4zM288 733h4v1h-4zM296 728h4v5h-4zM296 733h4v2h-4zM304 728h4v5h-4zM304 733h4v2h-4zM312 733h4v3h-4zM320 733h4v5h-4zM328 733h4v5h-4zM344 732h4v1h-4zM344 733h4v7h-4zM352 732h4v1h-4zM352 733h4v9h-4zM360 730h4v3h-4zM368 727h4v6h-4zM376 726h4v7h-4zM384 733h4v1h-4zM400 733h4v4h-4zM408 733h4v9h-4zM416 730h4v3h-4zM416 733h4v14h-4zM424 726h4v7h-4zM424 733h4v15h-4zM432 722h4v11h-4zM440 720h4v13h-4zM448 719h4v14h-4zM464 719h4v14h-4zM464 733h4v12h-4zM472 733h4v16h-4zM480 719h4v14h-4zM480 733h4v19h-4zM488 717h4v16h-4zM488 733h4v22h-4zM496 713h4v20h-4zM496 733h4v24h-4zM504 710h4v23h-4zM512 707h4v26h-4zM520 707h4v26h-4zM544 733h4v1h-4zM568 733h4v5h-4zM576 725h4v8h-4zM576 733h4v10h-4zM584 733h4v16h-4zM592 733h4v21h-4zM600 726h4v7h-4zM600 733h4v25h-4zM608 721h4v12h-4zM608 733h4v29h-4zM616 715h4v18h-4zM616 733h4v30h-4zM624 711h4v22h-4zM632 708h4v25h-4zM640 707h4v26h-4zM656 733h4v22h-4zM664 733h4v24h-4zM672 708h4v25h-4zM680 706h4v27h-4zM688 705h4v28h-4zM688 733h4v23h-4zM696 733h4v29h-4zM704 704h4v29h-4zM704 733h4v34h-4zM712 701h4v32h-4zM712 733h4v37h-4zM720 695h4v38h-4zM728 690h4v43h-4zM736 690h4v43h-4zM744 733h4v29h-4zM752 733h4v35h-4zM760 695h4v38h-4zM768 690h4v43h-4zM776 688h4v45h-4zM800 733h4v16h-4zM864 733h4v8h-4zM872 733h4v18h-4zM880 733h4v19h-4zM888 733h4v19h-4zM896 728h4v5h-4zM896 733h4v22h-4zM904 724h4v9h-4zM904 733h4v24h-4zM912 722h4v11h-4zM920 718h4v15h-4zM928 717h4v16h-4zM928 733h4v22h-4zM936 716h4v17h-4zM936 733h4v22h-4zM944 715h4v18h-4zM952 714h4v19h-4zM960 713h4v20h-4zM1016 733h4v1h-4zM1024 733h4v1h-4zM1040 728h4v5h-4zM1040 733h4v6h-4zM1064 733h4v3h-4zM1072 733h4v5h-4zM1080 733h4v17h-4zM1088 731h4v2h-4zM1088 733h4v25h-4zM1096 723h4v10h-4zM1104 716h4v17h-4zM1112 712h4v21h-4zM1112 733h4v20h-4zM1136 713h4v20h-4z" fill="#008000"/><path class="c" d="M0 730h4v3h-4zM8 732h4v1h-4zM8 733h4v7h-4zM48 733h4v35h-4zM56 733h4v34h-4zM64 733h4v32h-4zM72 733h4v21h-4zM80 733h4v3h-4zM88 705h4v28h-4zM96 720h4v13h-4zM104 732h4v1h-4zM104 733h4v17h-4zM112 733h4v16h-4zM120 724h4v9h-4zM136 733h4v16h-4zM144 733h4v13h-4zM152 720h4v13h-4zM152 733h4v12h-4zM160 722h4v11h-4zM168 722h4v11h-4zM200 733h4v20h-4zM208 733h4v20h-4zM216 733h4v18h-4zM224 733h4v12h-4zM232 710h4v23h-4zM232 733h4v9h-4zM240 713h4v20h-4zM240 733h4v6h-4zM248 716h4v17h-4zM248 733h4v2h-4zM256 719h4v14h-4zM264 721h4v12h-4zM272 726h4v7h-4zM272 733h4v4h-4zM280 729h4v4h-4zM280 733h4v1h-4zM288 730h4v3h-4zM312 728h4v5h-4zM320 730h4v3h-4zM328 730h4v3h-4zM336 732h4v1h-4zM336 733h4v4h-4zM360 733h4v8h-4zM368 733h4v4h-4zM376 733h4v1h-4zM384 729h4v4h-4zM392 731h4v2h-4zM392 733h4v1h-4zM400 731h4v2h-4zM408 732h4v1h-4zM432 733h4v14h-4zM440 733h4v14h-4zM448 733h4v13h-4zM456 719h4v14h-4zM456 733h4v11h-4zM472 720h4v13h-4zM504 733h4v23h-4zM512 733h4v20h-4zM520 733h4v14h-4zM528 707h4v26h-4zM528 733h4v4h-4zM536 711h4v22h-4zM536 733h4v1h-4zM544 718h4v15h-4zM552 723h4v10h-4zM552 733h4v1h-4zM560 726h4v7h-4zM560 733h4v1h-4zM568 726h4v7h-4zM584 729h4v4h-4zM592 732h4v1h-4zM624 733h4v28h-4zM632 733h4v26h-4zM640 733h4v24h-4zM648 707h4v26h-4zM648 733h4v21h-4zM656 708h4v25h-4zM664 709h4v24h-4zM672 733h4v24h-4zM680 733h4v21h-4zM696 705h4v28h-4zM720 733h4v35h-4zM728 733h4v28h-4zM736 733h4v23h-4zM744 693h4v40h-4zM752 697h4v36h-4zM760 733h4v33h-4zM768 733h4v29h-4zM776 733h4v23h-4zM784 690h4v43h-4zM784 733h4v16h-4zM792 694h4v39h-4zM792 733h4v15h-4zM800 699h4v34h-4zM808 702h4v31h-4zM808 733h4v15h-4zM816 702h4v31h-4zM816 733h4v14h-4zM824 702h4v31h-4zM824 733h4v12h-4zM832 703h4v30h-4zM832 733h4v8h-4zM840 705h4v28h-4zM840 733h4v5h-4zM848 708h4v25h-4zM848 733h4v1h-4zM856 712h4v21h-4zM856 733h4v1h-4zM864 715h4v18h-4zM872 718h4v15h-4zM880 725h4v8h-4zM888 732h4v1h-4zM912 733h4v23h-4zM920 733h4v22h-4zM944 733h4v21h-4zM952 733h4v18h-4zM960 733h4v13h-4zM968 714h4v19h-4zM968 733h4v7h-4zM976 717h4v16h-4zM976 733h4v6h-4zM984 720h4v13h-4zM984 733h4v5h-4zM992 722h4v11h-4zM992 733h4v4h-4zM1000 723h4v10h-4zM1000 733h4v2h-4zM1008 723h4v10h-4zM1008 733h4v1h-4zM1016 725h4v8h-4zM1024 727h4v6h-4zM1032 729h4v4h-4zM1032 733h4v1h-4zM1048 729h4v4h-4zM1048 733h4v4h-4zM1056 732h4v1h-4zM1056 733h4v3h-4zM1064 732h4v1h-4zM1072 732h4v1h-4zM1080 732h4v1h-4zM1096 733h4v23h-4zM1104 733h4v20h-4zM1120 713h4v20h-4zM1120 733h4v20h-4zM1128 713h4v20h-4z" fill="#ff0000"/></g>
<path class="c" d="M2 2h1221v1h-1221zM2 473h1221v1h-1221zM2 2h1v472h-1zM2 475h1221v1h-1221zM2 575h1221v1h-1221zM2 475h1v101h-1zM2 577h1221v1h-1221zM2 677h1221v1h-1221zM2 577h1v101h-1zM2 679h1221v1h-1221zM2 779h1221v1h-1221zM2 679h1v101h-1zM1222 2h1v778h-1zM1223 25h4v1h-4zM1223 57h4v1h-4zM1223 89h4v1h-4zM1223 121h4v1h-4zM1223 153h4v1h-4zM1223 185h4v1h-4zM1223 217h4v1h-4zM1223 249h4v1h-4zM1223 281h4v1h-4zM1223 313h4v1h-4zM1223 345h4v1h-4zM1223 377h4v1h-4zM1223 409h4v1h-4zM1223 441h4v1h-4zM1223 476h4v1h-4zM1223 574h4v1h-4zM1223 578h4v1h-4zM1223 676h4v1h-4zM1223 680h4v1h-4zM1223 778h4v1h-4zM2 779h1v5h-1zM66 779h1v5h-1zM130 779h1v5h-1zM194 779h1v5h-1zM258 779h1v5h-1zM322 779h1v5h-1zM386 779h1v5h-1zM450 779h1v5h-1zM514 779h1v5h-1zM578 779h1v5h-1zM642 779h1v5h-1zM706 779h1v5h-1zM770 779h1v5h-1zM834 779h1v5h-1zM898 779h1v5h-1zM962 779h1v5h-1zM1026 779h1v5h-1zM1090 779h1v5h-1z" fill="#000"/>
<text transform="translate(0 29) scale(0.88 1)" x="1394.92 1400.61 1406.31 1411.88 1417.66 1424.17 1426.74 1432.42">25315.90</text>
<text transform="translate(0 61) scale(0.88 1)" x="1394.92 1400.61 1406.28 1411.93 1417.65 1424.17 1426.75 1432.42">25269.50</text>
<text transform="translate(0 93) scale(0.88 1)" x="1394.92 1400.61 1406.28 1411.96 1417.68 1424.17 1426.66 1432.42">25223.10</text>
<text transform="translate(0 125) scale(0.88 1)" x="1394.92 1400.61 1406.2 1411.96 1417.61 1424.17 1426.73 1432.42">25176.70</text>
<text transform="translate(0 157) scale(0.88 1)" x="1394.92 1400.61 1406.2 1411.99 1417.65 1424.17 1426.77 1432.42">25130.30</text>
<text transform="translate(0 189) scale(0.88 1)" x="1394.92 1400.61 1406.28 1411.96 1417.68 1424.17 1426.74 1432.42">25083.90</text>
<text transform="translate(0 221) scale(0.88 1)" x="1394.92 1400.61 1406.28 1411.99 1417.64 1424.17 1426.75 1432.42">25037.50</text>
<text transform="translate(0 253) scale(0.88 1)" x="1394.92 1401.2 1406.28 1411.97 1417.56 1424.17 1426.66 1432.42">24991.10</text>
<text transform="translate(0 285) scale(0.88 1)" x="1394.92 1401.2 1406.28 1412.56 1418.25 1424.17 1426.73 1432.42">24944.70</text>
<text transform="translate(0 317) scale(0.88 1)" x="1394.92 1401.2 1406.28 1411.97 1417.65 1424.17 1426.77 1432.42">24898.30</text>
<text transform="translate(0 349) scale(0.88 1)" x="1394.92 1401.2 1406.28 1411.97 1417.56 1424.17 1426.74 1432.42">24851.90</text>
<text transform="translate(0 381) scale(0.88 1)" x="1394.92 1401.2 1406.28 1411.96 1417.66 1424.17 1426.75 1432.42">24805.50</text>
<text transform="translate(0 413) scale(0.88 1)" x="1394.92 1401.2 1406.28 1411.97 1417.65 1424.17 1426.66 1432.42">24759.10</text>
<text transform="translate(0 445) scale(0.88 1)" x="1394.92 1401.2 1406.28 1411.88 1417.65 1424.17 1426.73 1432.42">24712.70</text>
<path class="c" d="M1225 74h44v11h-44z" fill="#c80000"/>
<text transform="translate(0 83) scale(0.88 1)" x="1394.92 1400.61 1406.28 1411.99 1417.64 1424.17 1426.75 1432.42" style="fill:#fff;stroke:#fff">25237.50</text>
<text transform="translate(0 484) scale(0.88 1)" x="1394.92 1400.6 1406.28 1412.8 1415.97 1421.06 1426.77">289.483</text>
<text transform="translate(0 573) scale(0.88 1)" x="1395.02 1398.25 1404.01 1409.69 1416.21 1418.78 1424.43 1430.16">-190.065</text>
<text transform="translate(0 586) scale(0.88 1)" x="1394.92 1400.6 1407.12 1409.61 1415.97 1421.66 1426.74">92.1440</text>
<text transform="translate(0 675) scale(0.88 1)" x="1395.02 1398.25 1404.01 1410.29 1416.21 1418.75 1424.46 1430.15 1436.43">-124.6224</text>
<text transform="translate(0 688) scale(0.88 1)" x="1394.84 1400.63 1406.31 1412.8 1415.37 1421.06 1426.75">133.785</text>
<text transform="translate(0 777) scale(0.88 1)" x="1395.02 1398.25 1403.93 1409.66 1416.21 1418.78 1424.46 1430.16">-116.005</text>
<text transform="translate(0 792) scale(0.88 1)" x="1.66 7.42 13.04 16.59 23.34 28.9 34.51 38.1 43.78 49.46 55.11">12 Feb 2026</text>
<text transform="translate(0 792) scale(0.88 1)" x="74.38 80.15 85.76 89.32 96.06 101.62 107.24 110.75 116.51 123.03 125.6 131.28">12 Feb 19:00</text>
<text transform="translate(0 792) scale(0.88 1)" x="147.11 152.9 158.52 162.04 168.79 174.35 179.97 183.56 189.2 195.76 198.33 204.01">13 Feb 06:00</text>
<text transform="translate(0 792) scale(0.88 1)" x="219.84 225.63 231.25 234.77 241.52 247.08 252.7 256.2 262.56 268.48 271.06 276.74">13 Feb 14:00</text>
<text transform="translate(0 792) scale(0.88 1)" x="292.56 298.36 303.97 307.5 314.25 319.81 325.42 329.01 334.69 341.21 343.78 349.46">13 Feb 22:00</text>
<text transform="translate(0 792) scale(0.88 1)" x="365.29 371.02 376.64 380.23 386.97 392.53 398.15 401.74 407.42 413.94 416.51 422.19">16 Feb 09:00</text>
<text transform="translate(0 792) scale(0.88 1)" x="438.02 443.75 449.36 452.95 459.7 465.26 470.88 474.38 480.14 486.67 489.24 494.92">16 Feb 17:00</text>
<text transform="translate(0 792) scale(0.88 1)" x="510.75 516.5 522.12 525.68 532.43 537.99 543.6 547.19 553.47 559.39 561.96 567.65">17 Feb 04:00</text>
<text transform="translate(0 792) scale(0.88 1)" x="583.47 589.23 594.85 598.41 605.16 610.71 616.33 619.84 625.6 632.12 634.69 640.37">17 Feb 12:00</text>
<text transform="translate(0 792) scale(0.88 1)" x="656.2 661.96 667.58 671.14 677.88 683.44 689.06 692.65 698.33 704.85 707.42 713.1">17 Feb 20:00</text>
<text transform="translate(0 792) scale(0.88 1)" x="728.93 734.69 740.31 743.86 750.61 756.17 761.79 765.37 771.05 777.57 780.15 785.83">18 Feb 07:00</text>
<text transform="translate(0 792) scale(0.88 1)" x="801.66 807.42 813.04 816.59 823.34 828.9 834.51 838.02 843.79 850.3 852.87 858.56">18 Feb 15:00</text>
<text transform="translate(0 792) scale(0.88 1)" x="874.38 880.15 885.77 889.32 896.06 901.62 907.24 910.83 916.51 923.03 925.6 931.28">19 Feb 02:00</text>
<text transform="translate(0 792) scale(0.88 1)" x="947.11 952.88 958.49 962.04 968.79 974.35 979.97 983.47 989.24 995.76 998.33 1004.01">19 Feb 10:00</text>
<text transform="translate(0 792) scale(0.88 1)" x="1019.84 1025.6 1031.22 1034.77 1041.52 1047.08 1052.7 1056.2 1061.96 1068.48 1071.06 1076.74">19 Feb 18:00</text>
<text transform="translate(0 792) scale(0.88 1)" x="1092.65 1098.33 1103.94 1107.5 1114.25 1119.81 1125.42 1129.01 1134.7 1141.21 1143.78 1149.46">20 Feb 05:00</text>
<text transform="translate(0 792) scale(0.88 1)" x="1165.37 1171.06 1176.67 1180.23 1186.97 1192.53 1198.15 1201.66 1207.45 1213.94 1216.51 1222.19">20 Feb 13:00</text>
<text transform="translate(0 792) scale(0.88 1)" x="1238.1 1243.78 1249.4 1252.95 1259.7 1265.26 1270.88 1274.46 1280.06 1286.67 1289.24 1294.92">20 Feb 21:00</text>
<text transform="translate(0 488) scale(0.88 1)" x="6.86 14.82 23.3 27.88 33.88 38.67 41.48 44.84 51.2 56.2 62.8 65.29 71.06 77.34">AOcust 141.184</text>
<text transform="translate(0 590) scale(0.88 1)" x="6.86 14.47 22.17 26.74 32.74 37.53 40.34 43.78 49.46 55.98 58.47 64.24 69.91 75.52">ACcust 27.1271</text>
<text transform="translate(0 692) scale(0.88 1)" x="6.42 14.02 20.15 23.33 29.2 33.33 40.38 46.38 51.17 53.98 57.43 63.1 69.62 72.19 77.87 83.52 89.14 92.75 96.06 101.66 108.26 110.75 116.52 122.11">GatorCust 50.006 -51.151</text>
</svg></body></html>
